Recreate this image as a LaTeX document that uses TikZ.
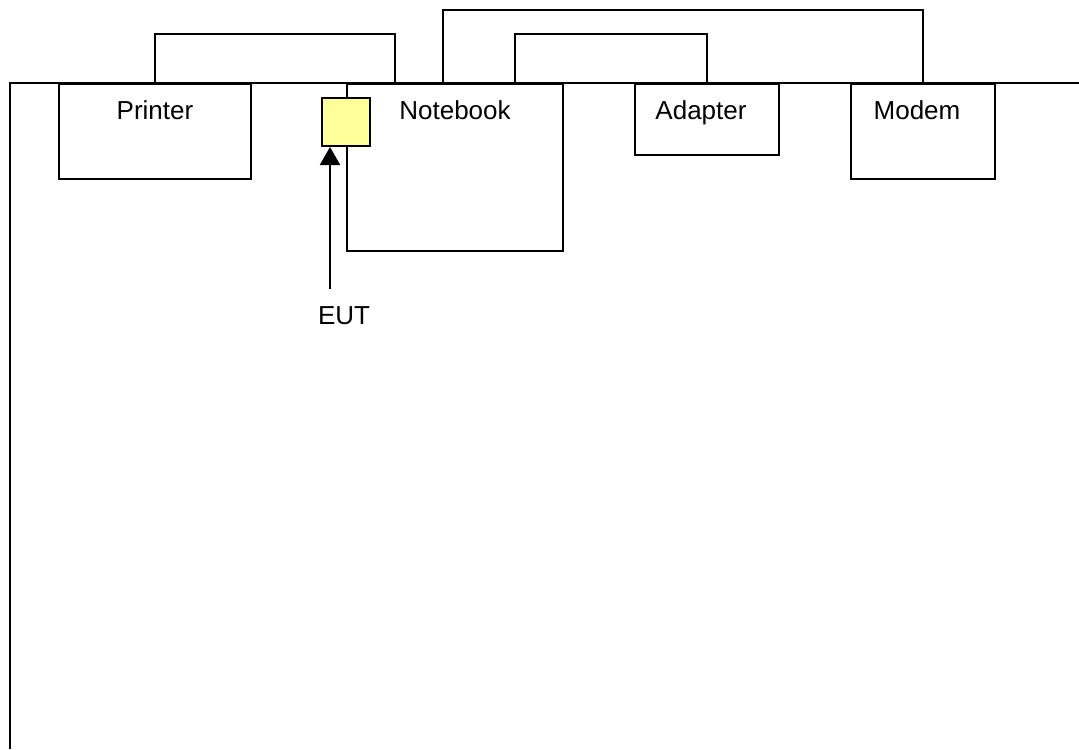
\documentclass[tikz,border=0pt]{standalone}
\usepackage{fontspec}
\setmainfont{Liberation Sans}
\usetikzlibrary{arrows.meta}

\begin{document}
\begin{tikzpicture}[
    x=0.5pt, y=-0.5pt,
    line width=1pt,
    font=\fontsize{13}{15}\selectfont,
    arrowtip/.style={
      -{Triangle[width=10pt,length=9pt]}
    },
    unit/.style={
      draw, fill=white, anchor=north west, inner sep=0pt
    },
    unitname/.style={
      anchor=north, inner sep=0pt, yshift=-8.5pt
    }
  ]
    \useasboundingbox (0,0) rectangle (1079,749);

    \coordinate (TL) at (  10, 83);
    \coordinate (TR) at (1079, 83);
    \coordinate (BL) at (  10,749);

    \coordinate (PR) at ( 58, 83);
    \coordinate (NB) at (346, 83);
    \coordinate (AD) at (634, 83);
    \coordinate (MD) at (850, 83);

    % table edge
    \draw (BL) -- (TL) -- (TR);

    \node[unit, minimum width=96pt,  minimum height=47.5pt,
          label={[unitname]north:Printer}] (printer) at (PR) {};
    \node[unit, minimum width=108pt, minimum height=83.5pt,
          label={[unitname]north:Notebook}] (notebook) at (NB) {};
    \node[unit, minimum width=72pt,  minimum height=35.5pt,
          label={[unitname,xshift=-3pt]north:Adapter}] (adapter) at (AD) {};
    \node[unit, minimum width=72pt,  minimum height=47.5pt,
          label={[unitname,xshift=-3pt]north:Modem}] (modem) at (MD) {};

    \node[draw, fill={rgb,255:red,255;green,255;blue,153},
          minimum size=24pt, inner sep=0pt] (eutbox) at (346,122) {};

    \node[inner sep=8.5pt] (EUT) at (344,316) {EUT};

    % cables
    \draw (printer.north) -- ++(0,-49) -| ([xshift=-30pt]notebook.north);
    \draw ([xshift=-6pt]notebook.north) -- ++(0,-73) -| (modem.north);
    \draw ([xshift=30pt]notebook.north) -- ++(0,-49) -| (adapter.north);

    \draw[arrowtip] ([xshift=-7pt]EUT.north) coordinate (eutfoot)
      -- (eutfoot |- eutbox.south);
  \end{tikzpicture}
\end{document}
